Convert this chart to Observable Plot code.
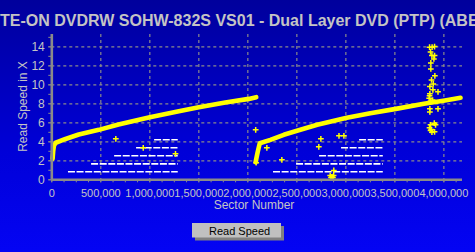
<!DOCTYPE html>
<html>
<head>
<meta charset="utf-8">
<script src="https://cdn.jsdelivr.net/npm/d3@7"></script>
<script src="https://cdn.jsdelivr.net/npm/@observablehq/plot@0.6"></script>
<style>
  html, body { margin: 0; padding: 0; overflow: hidden; background: #0000c8; }
  #chart { width: 475px; height: 252px; }
</style>
</head>
<body>
<div id="chart"></div>
<script>
// ---- data ----
const titleText = "LITE-ON DVDRW SOHW-832S VS01 - Dual Layer DVD (PTP) (ABEX)";
const xLabel = "Sector Number";
const yLabel = "Read Speed in X";
const seriesName = "Read Speed";

const xMajorTicks = [0, 500000, 1000000, 1500000, 2000000, 2500000, 3000000, 3500000, 4000000];
const yMajorTicks = [0, 2, 4, 6, 8, 10, 12, 14];

// layer 0 read curve
const layer0Sectors = [8000, 14000, 22000, 40000, 140000, 275000, 480000, 680000, 1000000, 1296000, 1500000, 1770000, 2010000, 2086000];
const layer0Speeds  = [2.2, 3.0, 3.6, 3.9, 4.3, 4.77, 5.26, 5.82, 6.59, 7.22, 7.64, 8.14, 8.52, 8.7];

// layer 1 read curve
const layer1Sectors = [2079000, 2090000, 2100000, 2112000, 2122000, 2230000, 2367000, 2510000, 2708000, 3010000, 3250000, 3510000, 3796000, 4010000, 4170000];
const layer1Speeds  = [1.85, 2.4, 2.9, 3.43, 3.85, 4.21, 4.74, 5.19, 5.79, 6.53, 7.01, 7.47, 8.0, 8.35, 8.63];

// scattered read samples
const outlierSectors = [
  653000, 933000, 1262000, 2080000, 2085000, 2194000, 2347000, 2724000, 2745000, 2930000, 2980000,
  2877000, 2840000, 2848000, 2858000, 2868000, 2875000,
  3854000, 3880000, 3905000, 3864000, 3878000, 3905000, 3898000, 3867000, 3867000, 3908000,
  3874000, 3892000, 3857000, 3888000, 3940000, 3857000, 3854000, 3850000, 3864000, 3857000,
  3857000, 3940000, 3902000, 3864000, 3915000, 3854000, 3871000, 3905000, 3878000, 3864000, 3885000
];
const outlierSpeeds = [
  4.32, 3.37, 2.74, 5.26, 1.8, 3.37, 2.10, 3.47, 4.32, 4.63, 4.63,
  0.98, 0.45, 0.25, 0.3, 0.25, 0.45,
  13.96, 13.96, 14.03, 13.47, 13.08, 13.08, 12.73, 12.31, 11.68, 10.95,
  10.52, 10.1, 9.82, 9.47, 9.26, 9.05, 8.84, 8.6, 8.27, 7.47,
  7.15, 7.47, 5.96, 5.79, 5.79, 5.47, 5.29, 5.05, 5.02, 5.2, 8.4
];

// white dashed level lines
const levelSpeeds = [0.84, 1.68, 2.53, 3.37, 4.21];
const level0Starts = [170000, 406000, 641000, 865000, 1049000];
const level0End = 1290000;
const level1Starts = [2262000, 2497000, 2732000, 2956000, 3140000];
const level1End = 3382000;

// ---- tables built from the arrays ----
const curve0 = layer0Sectors.map((s, i) => ({sector: s, speed: layer0Speeds[i]}));
const curve1 = layer1Sectors.map((s, i) => ({sector: s, speed: layer1Speeds[i]}));
const outliers = outlierSectors.map((s, i) => ({sector: s, speed: outlierSpeeds[i]}));
const levels = [
  ...levelSpeeds.map((v, i) => ({speed: v, x1: level0Starts[i], x2: level0End})),
  ...levelSpeeds.map((v, i) => ({speed: v, x1: level1Starts[i], x2: level1End}))
];
const xMinor = d3.range(0, 4190001, 125000);
const yMinor = d3.range(0, 16, 1);

const gridColor = "#8a8a8a";
const textColor = "#c4c4c4";
const yellow = "#ffff00";

const plot = Plot.plot({
  width: 475,
  height: 252,
  marginTop: 34,
  marginLeft: 51.3,
  marginRight: 13,
  marginBottom: 72.7,
  style: {
    background: "linear-gradient(to bottom, #00009c 0%, #0000d8 60%, #0404f4 100%)",
    fontFamily: "'Liberation Sans', Arial, sans-serif",
    fontSize: "11px",
    color: textColor,
    overflow: "hidden"
  },
  x: {domain: [0, 4190000]},
  y: {domain: [0, 15.3]},
  marks: [
    Plot.gridX(xMajorTicks.slice(1), {stroke: gridColor, strokeOpacity: 1, strokeDasharray: "3,3", strokeWidth: 1.2}),
    Plot.gridY(yMajorTicks.slice(1), {stroke: gridColor, strokeOpacity: 1, strokeDasharray: "3,3", strokeWidth: 1.2}),
    Plot.ruleY(levels, {y: "speed", x1: "x1", x2: "x2", stroke: "white", strokeWidth: 1.6, strokeDasharray: "7,1.6"}),
    Plot.line(curve0, {x: "sector", y: "speed", stroke: yellow, strokeWidth: 4.6}),
    Plot.line(curve1, {x: "sector", y: "speed", stroke: yellow, strokeWidth: 4.6}),
    Plot.dot(outliers, {x: "sector", y: "speed", symbol: "plus", r: 2, stroke: yellow, strokeWidth: 1.5}),
    Plot.ruleY([0], {stroke: gridColor, strokeWidth: 2.6}),
    Plot.ruleX([0], {stroke: gridColor, strokeWidth: 2.6}),
    Plot.axisX({ticks: xMinor, tickSize: 3, tickFormat: () => "", stroke: gridColor, label: null}),
    Plot.axisX({ticks: xMajorTicks, tickSize: 3, tickPadding: 6, tickFormat: d3.format(","), stroke: gridColor, fill: textColor, label: null}),
    Plot.axisY({ticks: yMinor, tickSize: 3, tickFormat: () => "", stroke: gridColor, label: null}),
    Plot.axisY({ticks: yMajorTicks, tickSize: 3, tickPadding: 4, stroke: gridColor, fill: textColor, label: null, fontSize: 12})
  ]
});

document.getElementById("chart").appendChild(plot);

// ---- title, axis labels, legend ----
const svg = d3.select(plot);
const ctx = document.createElement("canvas").getContext("2d");
ctx.font = "bold 16px 'Liberation Sans'";
const liWidth = ctx.measureText("LI").width;

svg.append("text")
  .attr("x", -liWidth).attr("y", 26)
  .attr("text-anchor", "start")
  .attr("fill", textColor)
  .style("font", "bold 16px 'Liberation Sans', Arial, sans-serif")
  .text(titleText);

svg.append("text")
  .attr("x", 254).attr("y", 209)
  .attr("text-anchor", "middle")
  .attr("fill", textColor)
  .style("font", "12px 'Liberation Sans', Arial, sans-serif")
  .text(xLabel);

svg.append("text")
  .attr("transform", "translate(26.5,106.5) rotate(-90)")
  .attr("text-anchor", "middle")
  .attr("fill", textColor)
  .style("font", "12px 'Liberation Sans', Arial, sans-serif")
  .text(yLabel);

const lg = svg.append("g");
lg.append("rect").attr("x", 195).attr("y", 226).attr("width", 89).attr("height", 14.5).attr("fill", "#808080");
lg.append("rect").attr("x", 192).attr("y", 223).attr("width", 89).attr("height", 14.5).attr("fill", "#c0c0c0");
lg.append("path").attr("d", d3.symbol(d3.symbolPlus, 16)()).attr("transform", "translate(199.5,231)").attr("fill", yellow);
lg.append("text")
  .attr("x", 209).attr("y", 235)
  .attr("text-anchor", "start")
  .attr("fill", "black")
  .style("font", "11px 'Liberation Sans', Arial, sans-serif")
  .text(seriesName);
</script>
</body>
</html>
